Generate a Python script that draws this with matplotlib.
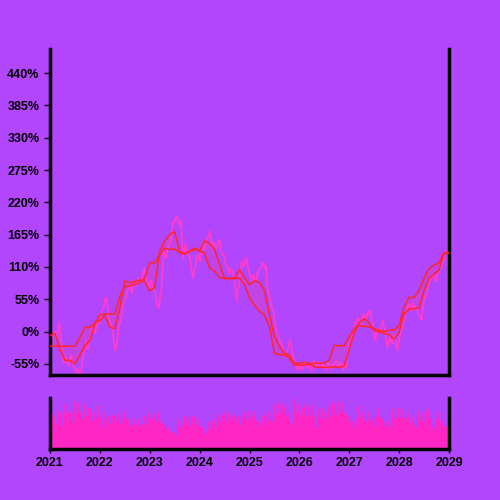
import matplotlib
matplotlib.use("Agg")
import matplotlib.pyplot as plt
import pandas as pd

plt.rcParams['font.family'] = ['Liberation Sans', 'DejaVu Sans']

BG = "#b146fc"
PINK = "#ff3ccc"
RED = "#ff2626"
BAR = "#ff26c6"

# percent change series (pink)
pct_values = [
    -7, -10, -2, 0, -12, 5, 15, -8, -20, -42, -54, -44, -45, -56, -58, -45, -40, -55,
    -60, -62, -71, -64, -65, -72, -68, -50, -40, -30, -15, -28, -30, -12, -5, 5, 7,
    -2, 0, 12, 15, 14, 24, 36, 40, 44, 58, 55, 40, 22, 14, 10, 0, -20, -32, -24, -10,
    8, 15, 24, 40, 50, 52, 58, 70, 72, 81, 75, 65, 80, 86, 78, 80, 92, 91, 84, 85,
    100, 108, 95, 90, 78, 75, 86, 85, 72, 70, 66, 55, 42, 41, 60, 70, 110, 137, 126,
    125, 142, 149, 150, 160, 180, 188, 186, 195, 195, 190, 180, 188, 150, 125, 142,
    149, 135, 130, 128, 120, 100, 91, 105, 110, 126, 132, 122, 120, 140, 150, 140,
    140, 155, 160, 162, 171, 150, 140, 152, 150, 142, 145, 156, 154, 138, 130, 132,
    125, 112, 110, 108, 98, 106, 105, 96, 95, 66, 52, 72, 80, 105, 120, 112, 110,
    122, 125, 110, 105, 92, 86, 96, 95, 86, 88, 100, 100, 108, 108, 118, 115, 108,
    112, 80, 64, 60, 50, 40, 36, 18, 7, -2, -5, -15, -20, -22, -30, -40, -44, -34,
    -30, -20, -15, -30, -40, -50, -55, -58, -66, -58, -60, -66, -63, -56, -55, -60,
    -62, -55, -58, -66, -65, -52, -49, -58, -60, -52, -55, -62, -61, -55, -58, -64,
    -64, -54, -55, -64, -62, -56, -58, -52, -50, -58, -60, -52, -54, -62, -65, -58,
    -60, -40, -27, -18, -15, -2, 2, 14, 15, 22, 24, 12, 10, 24, 30, 20, 20, 30, 28,
    34, 36, 20, 10, -10, -15, 0, 5, -2, 0, 12, 19, 8, 5, -20, -27, -15, -10, -18,
    -20, -8, -5, -25, -32, -18, -10, 0, 5, 18, 24, 32, 35, 45, 47, 36, 35, 48, 45,
    38, 40, 32, 30, 22, 19, 42, 52, 62, 60, 76, 81, 92, 90, 96, 98, 88, 85, 98, 100,
    110, 108, 118, 120, 132, 137,
]

# fast indicator line
fast_values = [
    -7, -3, -30, -49, -49, -55, -40, -24, -15, 14, 19, 27, 7, 5, 40, 86, 83,
    85, 88, 85, 69, 75, 137, 154, 165, 170, 137, 132, 137, 142, 137, 154, 150,
    140, 115, 91, 91, 91, 105, 92, 80, 86, 84, 70, 30, -8, -25, -37, -40, -54,
    -54, -52, -54, -60, -61, -61, -61, -60, -61, -59, -30, -3, 15, 22, 15, 2,
    -1, -3, -5, -13, -2, 30, 38, 39, 40, 69, 90, 98, 104, 132, 134,
]

# slow indicator line
slow_values = [
    -25, -25, -25, -25, -25, -25, -10, 7, 7, 14, 28, 30, 30, 30, 60, 76, 78,
    80, 83, 91, 117, 117, 130, 142, 140, 140, 135, 132, 136, 140, 137, 133,
    108, 103, 92, 90, 90, 90, 91, 80, 58, 45, 35, 28, 10, -37, -39, -40, -45,
    -57, -57, -57, -56, -54, -54, -54, -49, -24, -24, -24, -10, 5, 10, 9, 8, 5,
    2, 0, 2, 3, 10, 40, 58, 58, 70, 90, 107, 113, 117, 134, 134,
]

volume_values = [
    88, 70, 62, 50, 75, 60, 72, 45, 88, 68, 72, 60, 75, 52, 95, 70, 91, 66, 72, 58,
    91, 64, 81, 70, 78, 55, 72, 60, 85, 62, 52, 44, 72, 55, 65, 50, 88, 66, 65, 54,
    68, 50, 75, 60, 75, 56, 58, 48, 58, 45, 58, 50, 58, 44, 62, 50, 65, 48, 72, 58,
    78, 60, 68, 52, 72, 55, 65, 50, 48, 40, 45, 36, 42, 34, 32, 28, 58, 42, 62, 48,
    65, 52, 62, 46, 65, 50, 62, 48, 58, 44, 45, 38, 38, 30, 52, 40, 55, 44, 58, 46,
    68, 52, 65, 50, 72, 55, 72, 58, 65, 50, 68, 54, 65, 48, 62, 50, 72, 56, 75, 58,
    65, 52, 75, 55, 55, 45, 65, 50, 68, 52, 75, 56, 52, 42, 88, 66, 91, 70, 91, 68,
    85, 64, 72, 56, 48, 40, 98, 72, 88, 66, 81, 62, 88, 64, 85, 66, 88, 62, 52, 42,
    78, 60, 81, 62, 72, 56, 85, 64, 95, 70, 88, 66, 95, 72, 91, 68, 95, 70, 65, 52,
    55, 44, 75, 56, 85, 62, 75, 58, 68, 52, 72, 54, 58, 46, 85, 64, 81, 60, 58, 46,
    68, 52, 52, 42, 78, 58, 81, 62, 81, 60, 78, 58, 78, 60, 68, 52, 62, 48, 52, 42,
    75, 56, 68, 52, 75, 58, 78, 60, 45, 38, 58, 46, 72, 54, 55, 44, 45, 36,
]

y_ticks = [-55, 0, 55, 110, 165, 220, 275, 330, 385, 440]
year_ticks = ["2021", "2022", "2023", "2024", "2025", "2026", "2027", "2028", "2029"]

pct_dates = pd.date_range("2021-01-15", "2028-12-10", periods=len(pct_values))
ind_dates = pd.date_range("2021-01-01", "2028-12-31", periods=len(fast_values))
vol_dates = pd.date_range("2021-01-10", "2028-12-20", periods=len(volume_values))

fig = plt.figure(figsize=(5, 5), dpi=100, facecolor=BG)
ax = fig.add_axes([0.1, 0.25, 0.798, 0.652], facecolor=BG)
axv = fig.add_axes([0.1, 0.102, 0.798, 0.102], facecolor=BG)

ax.plot(pct_dates, pct_values, color=PINK, lw=1.3, zorder=2)
ax.fill_between(ind_dates, fast_values, slow_values,
                color="#ff3c9a", alpha=0.22, lw=0, zorder=1)
ax.plot(ind_dates, fast_values, color=RED, lw=1.1, zorder=3)
ax.plot(ind_dates, slow_values, color=RED, lw=1.1, zorder=3)

xmin = pd.Timestamp("2021-01-01")
xmax = pd.Timestamp("2029-01-01")
ax.set_xlim(xmin, xmax)
ax.set_ylim(-74, 481)
ax.set_yticks(y_ticks)
ax.set_yticklabels([f"{v}%" for v in y_ticks])
ax.set_xticks([])

for a in (ax, axv):
    a.spines['top'].set_visible(False)
    for s in ('left', 'right', 'bottom'):
        a.spines[s].set_linewidth(2.5)
        a.spines[s].set_color("black")
    a.tick_params(colors="black", labelsize=9, width=1, length=4)
    for lab in a.get_yticklabels() + a.get_xticklabels():
        lab.set_fontweight("bold")

axv.bar(vol_dates, volume_values, width=13, color=BAR, lw=0)
axv.set_xlim(xmin, xmax)
axv.set_ylim(0, 100)
axv.set_yticks([])
tick_dates = [pd.Timestamp(f"{y}-01-01") for y in year_ticks]
axv.set_xticks(tick_dates)
axv.set_xticklabels(year_ticks, fontweight="bold")
axv.tick_params(axis='x', length=3, pad=3)
for lab in ax.get_yticklabels():
    lab.set_fontweight("bold")

fig.savefig("out.png", dpi=100, facecolor=BG)
